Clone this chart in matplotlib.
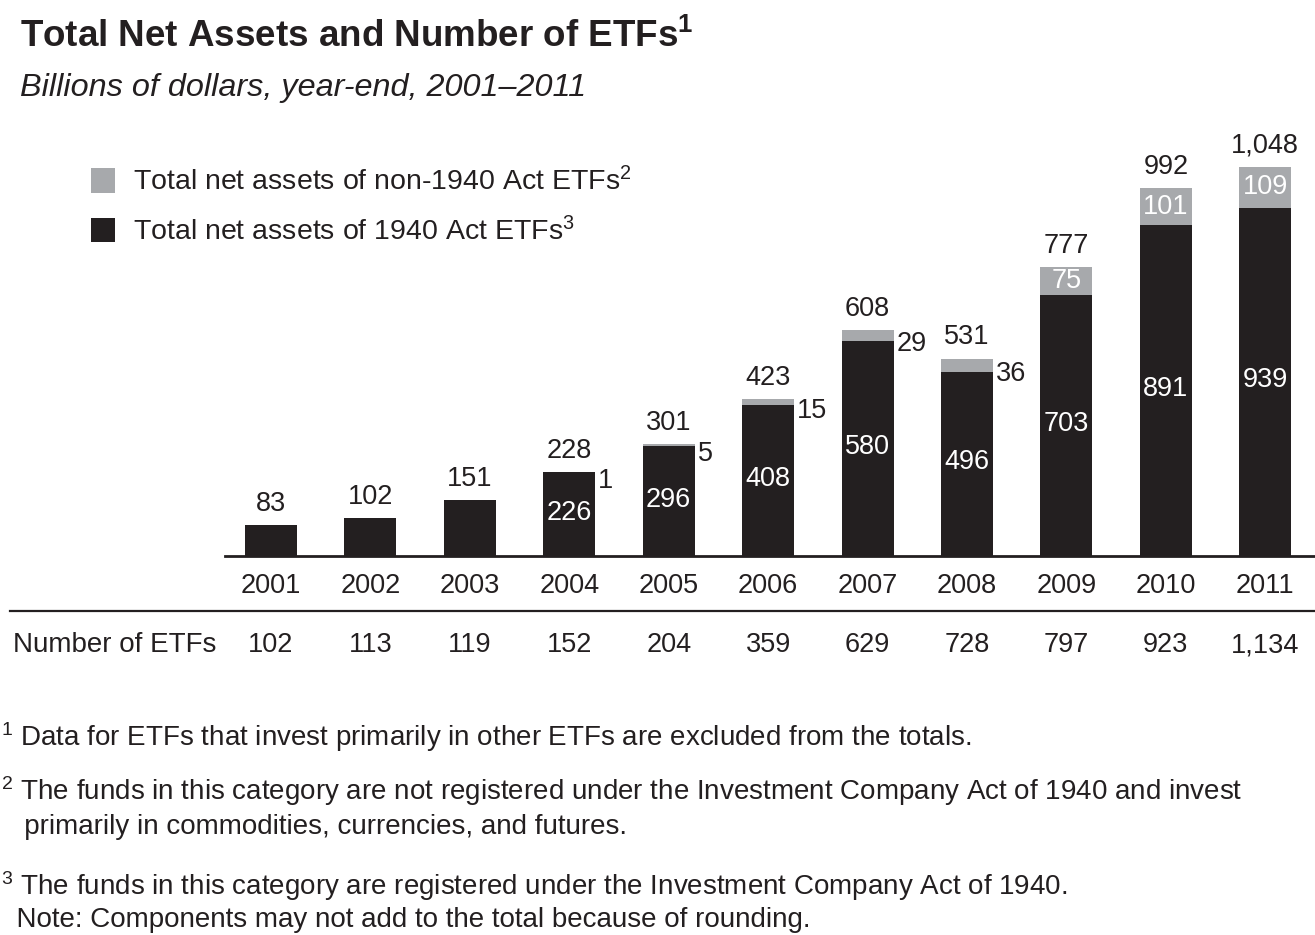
import matplotlib
matplotlib.use("Agg")
import matplotlib.pyplot as plt
from matplotlib.patches import Patch
from matplotlib.lines import Line2D
import matplotlib.transforms as mtransforms

plt.rcParams['font.family'] = ['Liberation Sans', 'DejaVu Sans']
plt.rcParams['mathtext.fontset'] = 'custom'
plt.rcParams['mathtext.rm'] = 'Liberation Sans'
plt.rcParams['mathtext.it'] = 'Liberation Sans:italic'
plt.rcParams['mathtext.bf'] = 'Liberation Sans:bold'

years = ["2001", "2002", "2003", "2004", "2005", "2006", "2007", "2008", "2009", "2010", "2011"]
act_1940 = [83, 102, 151, 226, 296, 408, 580, 496, 703, 891, 939]
non_1940 = [0, 0, 0, 1, 5, 15, 29, 36, 75, 101, 109]
totals = ["83", "102", "151", "228", "301", "423", "608", "531", "777", "992", "1,048"]
num_etfs = ["102", "113", "119", "152", "204", "359", "629", "728", "797", "923", "1,134"]

BLACK = "#231f20"
GRAY = "#a7a9ac"

W, H = 1315, 935
fig = plt.figure(figsize=(W / 100, H / 100), dpi=100)

# axes placed in pixel terms: left 225, right 1315, baseline 556, top 130
ax = fig.add_axes([225 / W, 1 - 556 / H, 1 - 225 / W, (556 - 130) / H])
ax.set_xlim(-0.463, 10.5)
ax.set_ylim(0, 1148)

x = list(range(len(years)))
bw = 0.523
ax.bar(x, act_1940, width=bw, color=BLACK, zorder=2)
ax.bar(x, non_1940, width=bw, bottom=act_1940, color=GRAY, zorder=2)

for s in ["top", "left", "right"]:
    ax.spines[s].set_visible(False)
ax.spines["bottom"].set_linewidth(2)
ax.spines["bottom"].set_color(BLACK)
ax.set_yticks([])
ax.set_xticks(x)
ax.set_xticklabels(years, fontsize=19.5, color=BLACK)
ax.tick_params(axis="x", length=0, pad=12)

fs = 19.5
for i in x:
    top = act_1940[i] + non_1940[i]
    ax.text(i, top + 22, totals[i], ha="center", va="bottom", fontsize=fs, color=BLACK)
    # white label inside black segment
    if i >= 3:
        ax.text(i, act_1940[i] / 2 + 4, str(act_1940[i]), ha="center", va="center",
                fontsize=fs, color="white")
    # gray segment label
    if non_1940[i] > 0:
        if i >= 8:
            ax.text(i, act_1940[i] + non_1940[i] / 2, str(non_1940[i]), ha="center",
                    va="center", fontsize=fs, color="white")
        else:
            ax.text(i + bw / 2 + 0.03, act_1940[i] + non_1940[i] / 2 - 24, str(non_1940[i]),
                    ha="left", va="center", fontsize=fs, color=BLACK)

# number of ETFs row
trans = mtransforms.blended_transform_factory(ax.transData, fig.transFigure)
for i in x:
    ax.text(i, 1 - 652 / H, num_etfs[i], ha="center", va="baseline", fontsize=fs,
            color=BLACK, transform=trans)
fig.text(13 / W, 1 - 652 / H, "Number of ETFs", ha="left", va="baseline", fontsize=20, color=BLACK)

# separator line
fig.add_artist(Line2D([10 / W, 1], [1 - 611 / H, 1 - 611 / H], color=BLACK, lw=1.6,
                      transform=fig.transFigure))

# titles
fig.text(20 / W, 1 - 47 / H, r"Total Net Assets and Number of ETFs$^{\mathbf{1}}$", fontsize=26.5,
         fontweight="bold", color=BLACK, va="baseline")
fig.text(20 / W, 1 - 96 / H, "Billions of dollars, year-end, 2001\u20132011", fontsize=23.3,
         fontstyle="italic", color=BLACK, va="baseline")

# legend
handles = [Patch(facecolor=GRAY, edgecolor="none"), Patch(facecolor=BLACK, edgecolor="none")]
labels = [r"Total net assets of non-1940 Act ETFs$^{2}$", r"Total net assets of 1940 Act ETFs$^{3}$"]
fig.legend(handles, labels, loc="upper left", bbox_to_anchor=(91 / W, 1 - 167 / H),
           frameon=False, fontsize=20.5, handlelength=0.85, handleheight=0.95,
           handletextpad=0.62, labelspacing=0.72, borderpad=0, borderaxespad=0,
           labelcolor=BLACK)

# footnotes
notes = [
    (746, r"$^{1}$ Data for ETFs that invest primarily in other ETFs are excluded from the totals."),
    (800, r"$^{2}$ The funds in this category are not registered under the Investment Company Act of 1940 and invest"),
    (834, "   primarily in commodities, currencies, and futures."),
    (895, r"$^{3}$ The funds in this category are registered under the Investment Company Act of 1940."),
    (927, "  Note: Components may not add to the total because of rounding."),
]
for yy, t in notes:
    fig.text(1 / W, 1 - yy / H, t, fontsize=20, color=BLACK, va="baseline", ha="left")

fig.savefig("out.png", dpi=100)
